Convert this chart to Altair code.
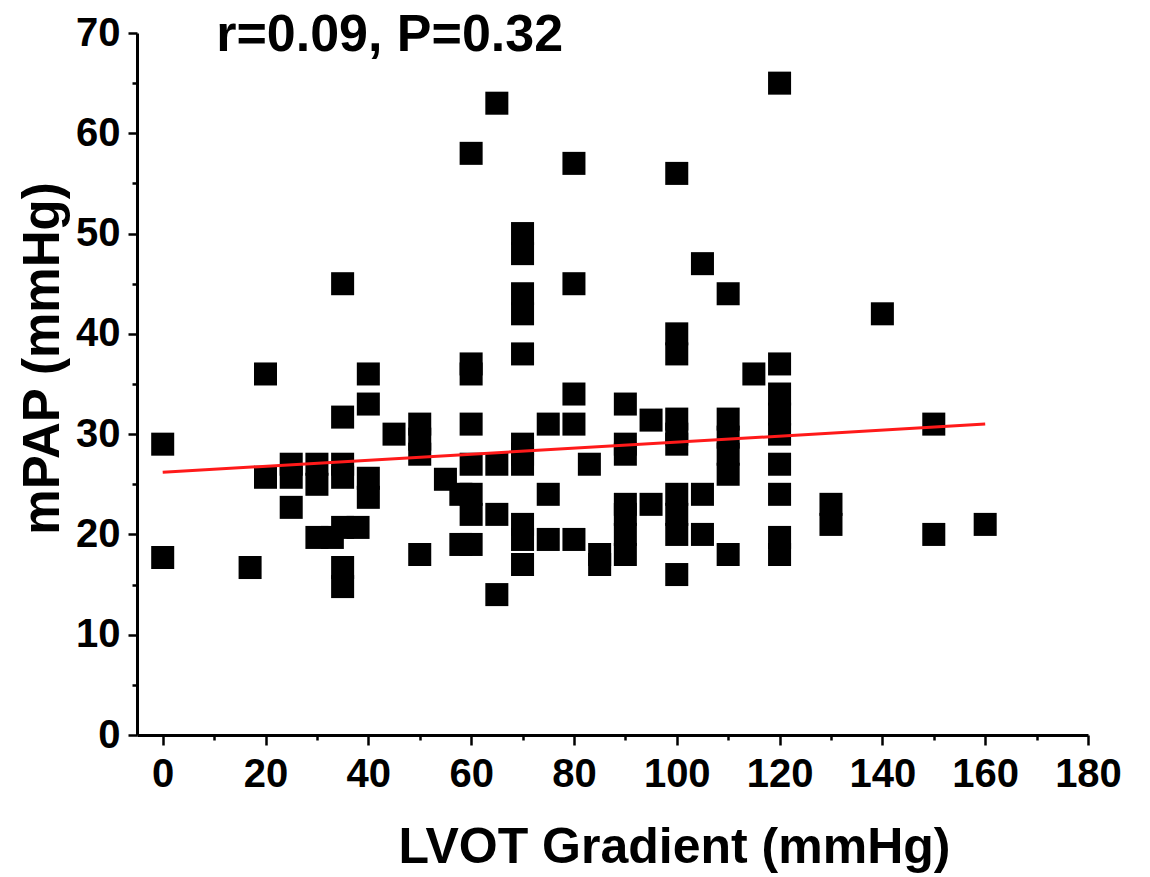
import altair as alt
import pandas as pd

# LVOT gradient (mmHg) and mPAP (mmHg)
lvot = [0, 0, 17, 20, 20, 25, 25, 25, 30, 30, 30, 33,
        35, 35, 35, 35, 35, 35, 35, 38, 40, 40, 40, 40, 45,
        50, 50, 50, 50, 55, 58, 58,
        60, 60, 60, 60, 60, 60, 60, 60,
        65, 65, 65, 65,
        70, 70, 70, 70, 70, 70, 70, 70, 70, 70, 70,
        75, 75, 75, 80, 80, 80, 80, 80, 83, 85, 85,
        90, 90, 90, 90, 90, 90, 90, 95, 95,
        100, 100, 100, 100, 100, 100, 100, 100, 100, 100,
        105, 105, 105, 110, 110, 110, 110, 110, 110, 115,
        120, 120, 120, 120, 120, 120, 120, 120, 120,
        130, 130, 140, 150, 150, 160]
mpap = [29, 17.7, 16.7, 36, 25.7, 27, 25.7, 22.7, 27, 25, 19.7, 19.7,
        45, 31.7, 27, 25.7, 20.7, 16.7, 14.8, 20.7, 36, 33, 25.6, 23.7, 30,
        31, 29.5, 28, 18, 25.5, 24, 19,
        58, 37, 36, 31, 27, 24, 22, 19,
        63, 27, 22, 14,
        50, 48, 44, 42, 38, 29, 27, 21, 19.5, 17, 28,
        31, 24, 19.5, 57, 45, 34, 31, 19.5, 27, 18, 17,
        33, 29, 28, 23, 22, 20, 18, 31.4, 23,
        56, 40, 38, 31.5, 30, 29, 24, 22, 20, 16,
        47, 24, 20, 44, 31.5, 29.7, 28, 26, 18, 36,
        65, 37, 34, 32, 30, 27, 24, 19.7, 18,
        23, 21, 42, 31, 20, 21]

# regression line end points
fit_x = [0, 160]
fit_y = [26.2, 31.0]

# annotation
ann_text = ["r=0.09, P=0.32"]
ann_x = [10.4]
ann_y = [68.2]

x_ticks = list(range(0, 181, 10))
y_ticks = list(range(0, 71, 5))

pts = pd.DataFrame({"x": lvot, "y": mpap})
fit = pd.DataFrame({"x": fit_x, "y": fit_y})
ann = pd.DataFrame({"x": ann_x, "y": ann_y, "t": ann_text})

FONT = "Liberation Sans"

xscale = alt.Scale(domain=[-5, 180], nice=False, zero=False)
yscale = alt.Scale(domain=[0, 70], nice=False, zero=False)

xaxis = alt.Axis(
    values=x_ticks,
    labelExpr="datum.value % 20 === 0 ? datum.label : ''",
    grid=False,
    domainColor="black", domainWidth=3,
    tickColor="black", tickWidth=2.5,
    tickSize={"condition": {"test": "datum.value % 20 !== 0", "value": 5}, "value": 10},
    labelFont=FONT, labelFontSize=40, labelFontWeight="bold", labelColor="black",
    labelPadding=9, labelFlush=False, labelOverlap=False,
    title="LVOT Gradient (mmHg)",
    titleFont=FONT, titleFontSize=50, titleFontWeight="bold", titleColor="black",
    titleX=537, titleY=127, titleAlign="center", titleBaseline="alphabetic",
)
yaxis = alt.Axis(
    values=y_ticks,
    labelExpr="datum.value % 10 === 0 ? datum.label : ''",
    grid=False,
    domainColor="black", domainWidth=3,
    tickColor="black", tickWidth=2.5,
    tickSize={"condition": {"test": "datum.value % 10 !== 0", "value": 5}, "value": 9},
    labelFont=FONT, labelFontSize=40, labelFontWeight="bold", labelColor="black",
    labelPadding=8, labelFlush=False, labelOverlap=False,
    title="mPAP (mmHg)",
    titleFont=FONT, titleFontSize=51, titleFontWeight="bold", titleColor="black",
    titleX=-79, titleY=325, titleAngle=270, titleAlign="center", titleBaseline="alphabetic",
)

points = alt.Chart(pts).mark_square(size=530, color="black", opacity=1).encode(
    x=alt.X("x:Q", scale=xscale, axis=xaxis),
    y=alt.Y("y:Q", scale=yscale, axis=yaxis),
)

line = alt.Chart(fit).mark_line(color="#ff1a1a", strokeWidth=3).encode(
    x=alt.X("x:Q", scale=xscale),
    y=alt.Y("y:Q", scale=yscale),
)

text = alt.Chart(ann).mark_text(
    font=FONT, fontSize=52, fontWeight="bold", color="black",
    align="left", baseline="alphabetic", clip=False,
).encode(
    x=alt.X("x:Q", scale=xscale),
    y=alt.Y("y:Q", scale=yscale),
    text="t:N",
)

chart = alt.layer(points, line, text).properties(
    width=951, height=702,
    padding={"left": 129, "top": 25, "right": 52, "bottom": 142},
    autosize="none",
    background="white",
).configure_view(stroke=None, strokeWidth=0)

chart.save("out.html", embed_options={"renderer": "svg", "actions": False})
